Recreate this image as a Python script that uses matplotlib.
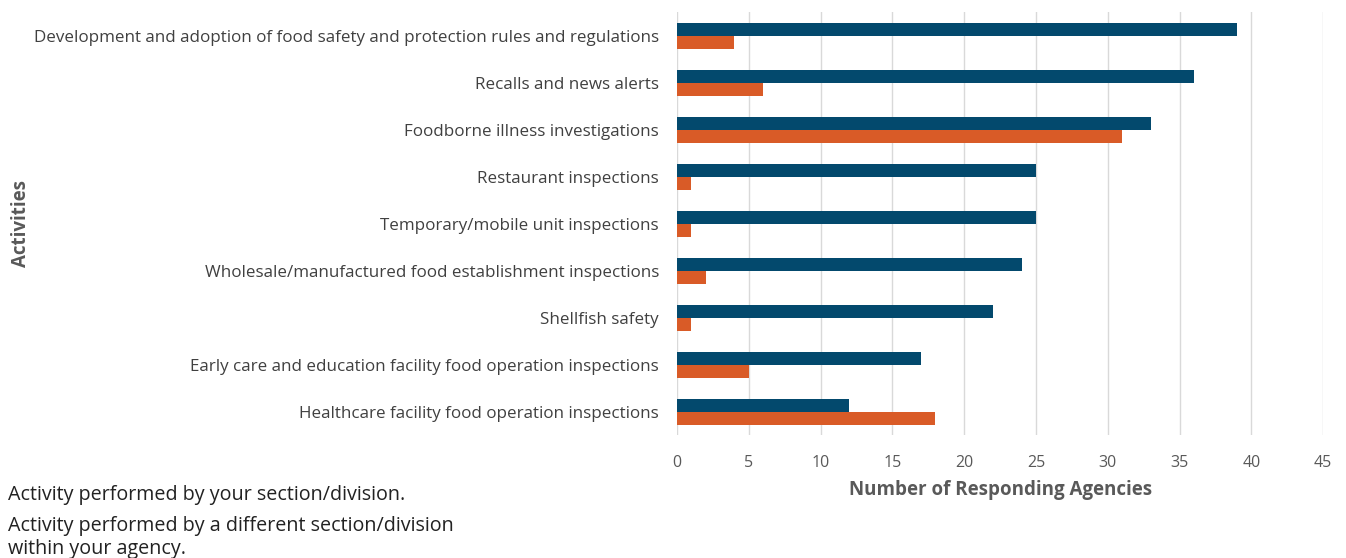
import numpy as np
import matplotlib.pyplot as plt

plt.rcParams['font.family'] = ['Open Sans', 'DejaVu Sans']

activities = [
    'Development and adoption of food safety and protection rules and regulations',
    'Recalls and news alerts',
    'Foodborne illness investigations',
    'Restaurant inspections',
    'Temporary/mobile unit inspections',
    'Wholesale/manufactured food establishment inspections',
    'Shellfish safety',
    'Early care and education facility food operation inspections',
    'Healthcare facility food operation inspections',
]
own_division = [39, 36, 33, 25, 25, 24, 22, 17, 12]
other_division = [4, 6, 31, 1, 1, 2, 1, 5, 18]
xticks = [0, 5, 10, 15, 20, 25, 30, 35, 40, 45]

blue = '#03496D'
orange = '#D95B27'

fig = plt.figure(figsize=(13.46, 5.58), dpi=100)
ax = fig.add_axes([0.503, 0.22, 0.480, 0.758])

y = np.arange(len(activities))
h = 0.28
ax.barh(y - h / 2, own_division, height=h, color=blue, zorder=3)
ax.barh(y + h / 2, other_division, height=h, color=orange, zorder=3)

ax.set_ylim(len(activities) - 0.5, -0.5)
ax.set_xlim(0, 45)
ax.set_xticks(xticks)
ax.set_yticks(y)
ax.set_yticklabels(activities, fontsize=12.25, color='#404040')
ax.tick_params(axis='x', labelsize=11.5, colors='#595959', length=0, pad=14)
ax.tick_params(axis='y', length=0, pad=13)
ax.grid(axis='x', color='#D9D9D9', linewidth=1, zorder=0)
for s in ax.spines.values():
    s.set_visible(False)

ax.set_xlabel('Number of Responding Agencies', fontsize=13.5, fontweight='bold',
              color='#595959', labelpad=7)
fig.text(0.0155, 0.6, 'Activities', rotation=90, fontsize=13.5, fontweight='bold',
         color='#595959', ha='center', va='center')

fig.text(0.006, 0.113, 'Activity performed by your section/division.',
         fontsize=14.2, color='#222222', va='center')
fig.text(0.006, 0.076, 'Activity performed by a different section/division\nwithin your agency.',
         fontsize=14.2, color='#222222', va='top', linespacing=1.2)

plt.savefig('out.png', dpi=100)
